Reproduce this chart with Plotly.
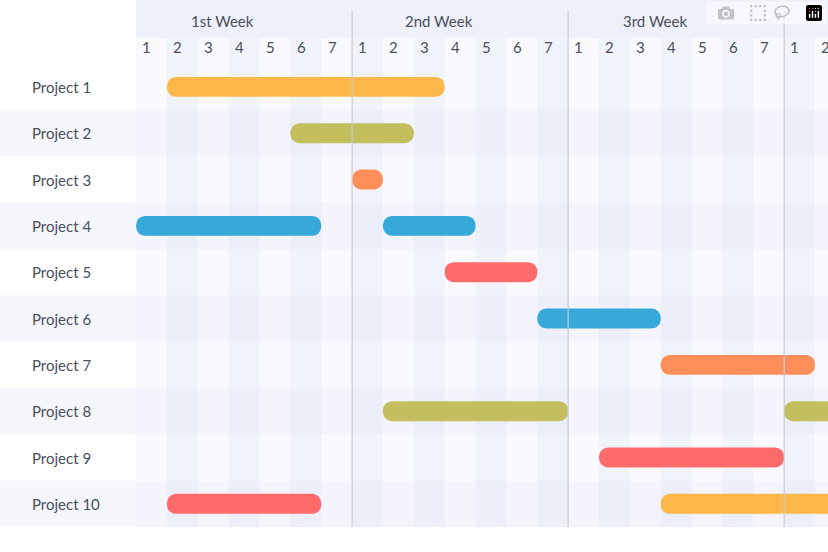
import plotly.graph_objects as go

# Data
projects = ["Project %d" % i for i in range(1, 11)]
# (project index, start day, end day, colour) - days counted from 0 at start of week 1
task_project = [0, 1, 2, 3, 3, 4, 5, 6, 7, 7, 8, 9, 9]
task_start = [1, 5, 7, 0, 8, 10, 13, 17, 8, 21, 15, 1, 17]
task_end = [10, 9, 8, 6, 11, 13, 17, 22, 14, 25, 21, 6, 25]
task_color = ["#FDB849", "#C4BF5E", "#FF8F5A", "#36A9D9", "#36A9D9", "#FF6B6B",
              "#36A9D9", "#FF8F5A", "#C4BF5E", "#C4BF5E", "#FF6B6B", "#FF6B6B", "#FDB849"]
week_labels = ["1st Week", "2nd Week", "3rd Week", "4th Week"]
day_labels = ["1", "2", "3", "4", "5", "6", "7"]

X_MIN, X_MAX = -4.41, 22.42
Y_TOP, Y_BOT = -1.875, 9.5
FONT = "Lato, Open Sans, sans-serif"

fig = go.Figure()

shapes = []
# header band
shapes.append(dict(type="rect", xref="x", yref="y", x0=0, x1=X_MAX, y0=Y_TOP, y1=-1.05,
                   fillcolor="#EEF1FA", line_width=0, layer="below"))
# row bands
for i in range(len(projects)):
    if i % 2 == 1:
        shapes.append(dict(type="rect", xref="x", yref="y", x0=X_MIN, x1=X_MAX, y0=i - 0.5, y1=i + 0.5,
                           fillcolor="#F6F6FD", line_width=0, layer="below"))
# day column stripes
for d in range(0, 23):
    if d % 2 == 1:
        shapes.append(dict(type="rect", xref="x", yref="y", x0=d, x1=d + 1, y0=-1.05, y1=Y_BOT,
                           fillcolor="rgba(225,229,243,0.45)", line_width=0, layer="below"))
    else:
        shapes.append(dict(type="rect", xref="x", yref="y", x0=d, x1=d + 1, y0=-1.05, y1=Y_BOT,
                           fillcolor="rgba(240,242,251,0.35)", line_width=0, layer="below"))
# week separators
for w in range(1, 4):
    shapes.append(dict(type="line", xref="x", yref="y", x0=7 * w, x1=7 * w, y0=-1.65, y1=Y_BOT,
                       line=dict(color="#C9CBD3", width=1.2)))

for p, s, e, c in zip(task_project, task_start, task_end, task_color):
    fig.add_trace(go.Bar(y=[p], x=[e - s], base=[s], orientation="h", width=0.43,
                         marker=dict(color=c, cornerradius=10, line_width=0),
                         showlegend=False, hoverinfo="skip"))

annotations = []
for i, name in enumerate(projects):
    annotations.append(dict(x=-3.44, y=i, text=name, showarrow=False, xanchor="left",
                            font=dict(family=FONT, size=15, color="#4a4f5a")))
for w, wl in enumerate(week_labels):
    annotations.append(dict(x=7 * w + 2.8, y=-1.42, text=wl, showarrow=False,
                            font=dict(family=FONT, size=15, color="#4a4f5a")))
    for d, dl in enumerate(day_labels):
        annotations.append(dict(x=7 * w + d + 0.35, y=-0.86, text=dl, showarrow=False,
                                font=dict(family=FONT, size=15, color="#4a4f5a")))

fig.update_layout(
    width=828, height=552, margin=dict(l=0, r=0, t=0, b=25),
    paper_bgcolor="white", plot_bgcolor="white",
    barmode="overlay", shapes=shapes, annotations=annotations,
    xaxis=dict(range=[X_MIN, X_MAX], visible=False, fixedrange=True),
    yaxis=dict(range=[Y_BOT, Y_TOP], visible=False, fixedrange=True),
)

fig.write_html("out.html", post_script="document.body.style.margin='0';")
